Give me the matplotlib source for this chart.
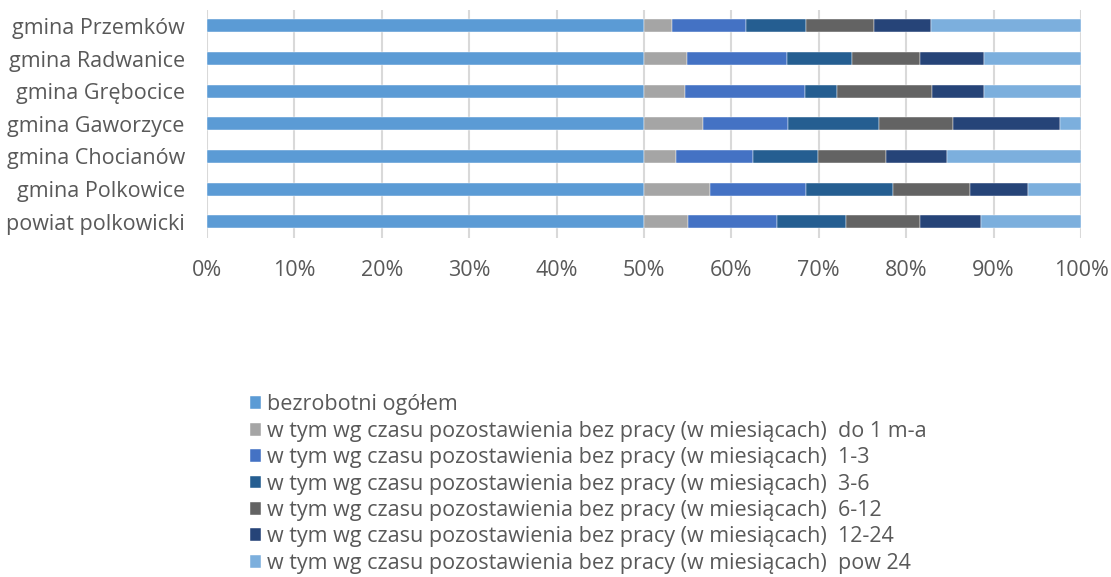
import numpy as np
import matplotlib
matplotlib.use('Agg')
from matplotlib import pyplot as plt
from matplotlib.ticker import PercentFormatter

plt.rcParams['font.family'] = ['Open Sans', 'DejaVu Sans']

regions = ['powiat polkowicki', 'gmina Polkowice', 'gmina Chocianów', 'gmina Gaworzyce',
           'gmina Grębocice', 'gmina Radwanice', 'gmina Przemków']

# share of each row total, in % (ogółem is half of the row because it equals the sum of the parts)
ogolem = [50, 50, 50, 50, 50, 50, 50]
do_1 = [5.07, 7.51, 3.62, 6.75, 4.65, 4.88, 3.24]
m1_3 = [10.19, 11.06, 8.85, 9.76, 13.77, 11.52, 8.43]
m3_6 = [7.85, 9.92, 7.40, 10.38, 3.66, 7.36, 6.87]
m6_12 = [8.47, 8.85, 7.86, 8.50, 10.91, 7.78, 7.78]
m12_24 = [6.94, 6.56, 6.98, 12.21, 5.87, 7.36, 6.48]
pow_24 = [11.48, 6.10, 15.29, 2.40, 11.14, 11.10, 17.20]

prefix = 'w tym wg czasu pozostawienia bez pracy (w miesiącach)  '
series = [
    ('bezrobotni ogółem', ogolem, '#5B9BD5'),
    (prefix + 'do 1 m-a', do_1, '#A5A5A5'),
    (prefix + '1-3', m1_3, '#4472C4'),
    (prefix + '3-6', m3_6, '#255E91'),
    (prefix + '6-12', m6_12, '#636363'),
    (prefix + '12-24', m12_24, '#264478'),
    (prefix + 'pow 24', pow_24, '#7CAFDD'),
]

fig = plt.figure(figsize=(11.11, 5.77), dpi=100)
ax = fig.add_axes([0.1863, 0.5873, 0.973 - 0.1863, 0.9835 - 0.5873])

y = np.arange(len(regions))
left = np.zeros(len(regions))
for label, vals, color in series:
    vals = np.array(vals, dtype=float)
    ax.barh(y, vals, left=left, height=0.4, color=color, label=label,
            edgecolor='white', linewidth=0.3, zorder=3)
    left += vals

ax.set_xlim(0, 100)
ax.set_ylim(-0.5, len(regions) - 0.5)
ax.set_xticks(np.arange(0, 101, 10))
ax.xaxis.set_major_formatter(PercentFormatter(decimals=0))
ax.set_yticks(y)
ax.set_yticklabels(regions)
ax.grid(axis='x', color='#d9d9d9', linewidth=1.5, zorder=0)
for s in ax.spines.values():
    s.set_visible(False)
ax.tick_params(axis='both', length=0, labelsize=15.5, colors='#595959')
ax.tick_params(axis='x', pad=16)
ax.tick_params(axis='y', pad=16)

fig.legend(loc='upper left', bbox_to_anchor=(0.215, 0.335), frameon=False,
           fontsize=15.5, labelcolor='#595959', handlelength=0.55, handleheight=0.55,
           handletextpad=0.25, labelspacing=0.25, borderpad=0)

fig.savefig('out.png', dpi=100)
